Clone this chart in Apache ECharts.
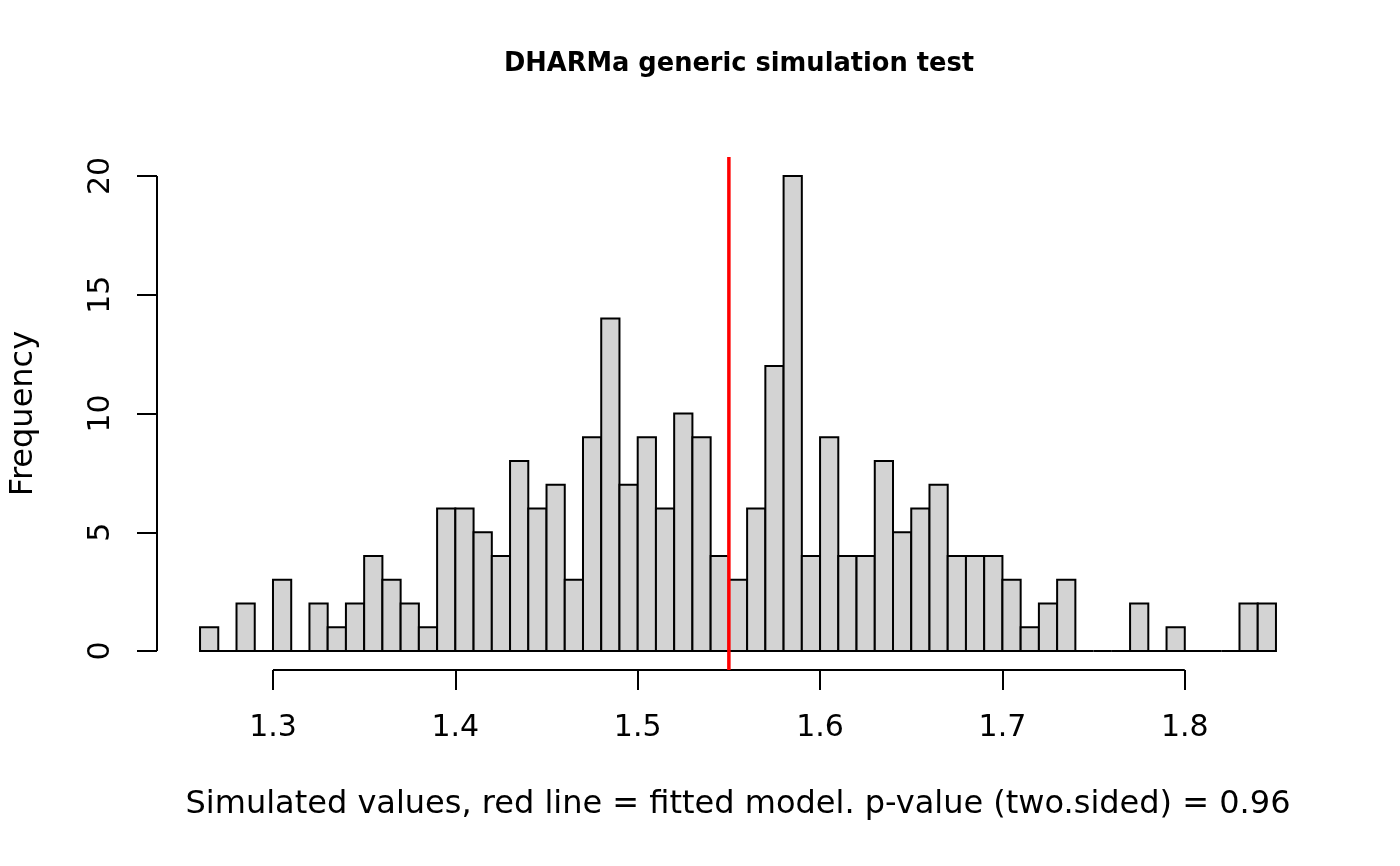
<!DOCTYPE html>
<html>
<head>
<meta charset="utf-8">
<script src="https://cdn.jsdelivr.net/npm/echarts@6/dist/echarts.min.js"></script>
<style>html,body{margin:0;padding:0;background:#fff}#c{width:1400px;height:866px}</style>
</head>
<body>
<div id="c"></div>
<script>
// ---- data ----
var breaks = [1.26,1.27,1.28,1.29,1.30,1.31,1.32,1.33,1.34,1.35,1.36,1.37,1.38,1.39,1.40,
  1.41,1.42,1.43,1.44,1.45,1.46,1.47,1.48,1.49,1.50,1.51,1.52,1.53,1.54,1.55,1.56,1.57,
  1.58,1.59,1.60,1.61,1.62,1.63,1.64,1.65,1.66,1.67,1.68,1.69,1.70,1.71,1.72,1.73,1.74,
  1.75,1.76,1.77,1.78,1.79,1.80,1.81,1.82,1.83,1.84,1.85];
var counts = [1,0,2,0,3,0,2,1,2,4,3,2,1,6,6,5,4,8,6,7,3,9,14,7,9,6,10,9,4,3,6,12,20,4,9,4,4,8,5,6,7,4,4,4,3,1,2,3,0,0,0,2,0,1,0,0,0,2,2];
var observed = 1.55;
var xTicks = [1.3,1.4,1.5,1.6,1.7,1.8];
var yTicks = [0,5,10,15,20];
var titleText = 'DHARMa generic simulation test';
var xLabel = 'Simulated values, red line = fitted model. p-value (two.sided) = 0.96';
var yLabel = 'Frequency';

// ---- build ----
var xr = breaks[breaks.length-1] - breaks[0];
var xMin = breaks[0] - 0.04*xr, xMax = breaks[breaks.length-1] + 0.04*xr;
var yTop = Math.max.apply(null, counts);
var yMin = -0.04*yTop, yMax = yTop*1.04;
var histData = counts.map(function(c,i){ return [breaks[i], breaks[i+1], c]; });
var FONT = 'DejaVu Sans';

var chart = echarts.init(document.getElementById('c'), null, {renderer:'canvas'});
chart.setOption({
  animation:false,
  backgroundColor:'#ffffff',
  title:{text:titleText, left:734, textAlign:'center', top:46,
    textStyle:{fontFamily:FONT, fontWeight:'bold', fontSize:25.7, color:'#000'}},
  grid:{left:156, right:81, top:157, bottom:196},
  xAxis:{type:'value', min:xMin, max:xMax,
    axisLine:{show:false, onZero:false}, splitLine:{show:false},
    axisTick:{show:true, inside:false, customValues:xTicks, length:20, lineStyle:{color:'#000', width:2}},
    axisLabel:{customValues:xTicks, margin:43, fontFamily:FONT, fontSize:30, color:'#000',
      formatter:function(v){return v.toFixed(1);}},
    name:xLabel, nameLocation:'middle', nameGap:119,
    nameTextStyle:{fontFamily:FONT, fontSize:32, color:'#000'}},
  yAxis:{type:'value', min:yMin, max:yMax,
    axisLine:{show:false, onZero:false}, splitLine:{show:false},
    axisTick:{show:true, inside:false, customValues:yTicks, length:20, lineStyle:{color:'#000', width:2}},
    axisLabel:{customValues:yTicks, rotate:90, margin:41, fontFamily:FONT, fontSize:30, color:'#000',
      formatter:function(v){return String(Math.round(v));}},
    name:yLabel, nameLocation:'middle', nameGap:117, nameRotate:90,
    nameTextStyle:{fontFamily:FONT, fontSize:32, color:'#000'}},
  series:[
    {type:'custom', data:histData, clip:false, silent:true,
      encode:{x:[0,1], y:2},
      renderItem:function(params, api){
        var p0 = api.coord([api.value(0), api.value(2)]);
        var p1 = api.coord([api.value(1), 0]);
        if (api.value(2) === 0) {
          return {type:'line', shape:{x1:p0[0], y1:p1[1], x2:p1[0], y2:p1[1]},
            style:{stroke:'#000', lineWidth:2}};
        }
        return {type:'rect', shape:{x:p0[0], y:p0[1], width:p1[0]-p0[0], height:p1[1]-p0[1]},
          style:{fill:'#D3D3D3', stroke:'#000', lineWidth:2}};
      }},
    {type:'line', data:[[xTicks[0], yMin],[xTicks[xTicks.length-1], yMin]], symbol:'none', clip:false, silent:true,
      lineStyle:{color:'#000', width:2}},
    {type:'line', data:[[xMin, yTicks[0]],[xMin, yTicks[yTicks.length-1]]], symbol:'none', clip:false, silent:true,
      lineStyle:{color:'#000', width:2}},
    {type:'line', data:[[observed, yMin],[observed, yMax]], symbol:'none', clip:false, silent:true,
      lineStyle:{color:'#ff0000', width:3.5}}
  ]
});
</script>
</body>
</html>
